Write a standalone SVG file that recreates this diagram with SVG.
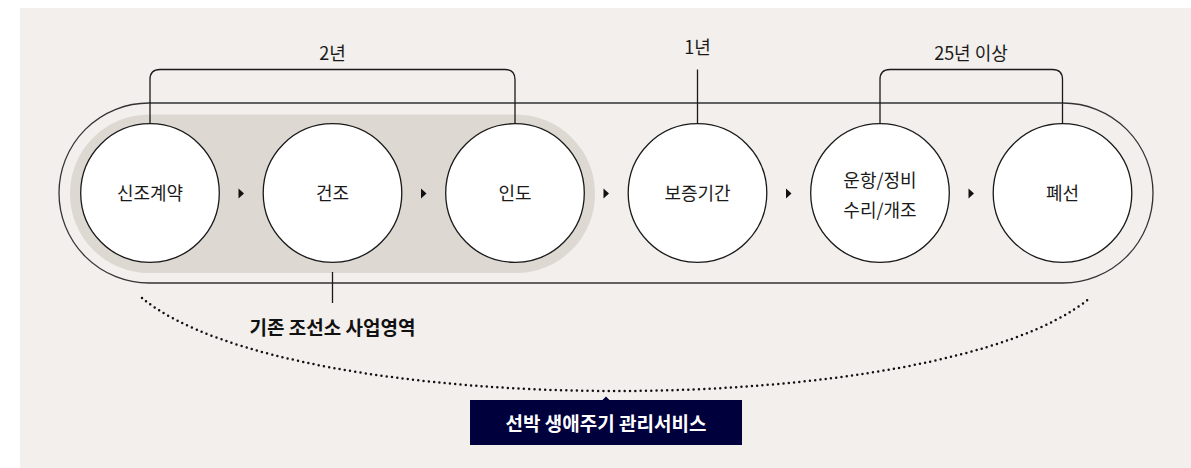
<svg xmlns="http://www.w3.org/2000/svg" width="1191" height="468" viewBox="0 0 1191 468">
<defs>
<style>
.lbl{font-family:"Noto Sans CJK KR","Noto Sans",sans-serif;font-size:18px;fill:#1a1a1a;text-anchor:middle}
.node circle{fill:#fff;stroke:#1a1a1a;stroke-width:1.3}
.ln{fill:none;stroke:#1a1a1a;stroke-width:1.3}
.arr{fill:#111}
.bold{font-family:"Noto Sans CJK KR","Noto Sans",sans-serif;font-weight:700;text-anchor:middle}
</style>
</defs>
<rect x="20" y="8" width="1171" height="460" fill="#f2efec"/>
<g id="outer-pill"><rect x="59" y="103" width="1094" height="180" rx="90" ry="90" fill="none" stroke="#333" stroke-width="1.3"/></g>
<g id="existing-area"><rect x="70" y="114.5" width="525" height="158.5" rx="79" ry="79" fill="#ddd8d2"/></g>
<g id="connectors">
<path class="ln" d="M150 124 V79.5 Q150 69.5 160 69.5 H505 Q515 69.5 515 79.5 V124"/>
<path class="ln" d="M697.5 69.5 V124"/>
<path class="ln" d="M880 124 V79.5 Q880 69.5 890 69.5 H1052.5 Q1062.5 69.5 1062.5 79.5 V124"/>
<path class="ln" d="M332.5 272 V303"/>
<path class="arr" d="M238.5 188.5 L244 193.5 L238.5 198.5 Z"/>
<path class="arr" d="M421 188.5 L426.5 193.5 L421 198.5 Z"/>
<path class="arr" d="M603.5 188.5 L609 193.5 L603.5 198.5 Z"/>
<path class="arr" d="M786 188.5 L791.5 193.5 L786 198.5 Z"/>
<path class="arr" d="M968.5 188.5 L974 193.5 L968.5 198.5 Z"/>
<path d="M142 298 C292 422 940 422 1090 298" fill="none" stroke="#111" stroke-width="2.5" stroke-linecap="round" stroke-dasharray="0 5.3"/>
</g>
<g id="n1" class="node"><circle cx="150" cy="193" r="69.3"/><text class="lbl" x="150" y="199.5">신조계약</text></g>
<g id="n2" class="node"><circle cx="332.5" cy="193" r="69.3"/><text class="lbl" x="332.5" y="199.5">건조</text></g>
<g id="n3" class="node"><circle cx="515" cy="193" r="69.3"/><text class="lbl" x="515" y="199.5">인도</text></g>
<g id="n4" class="node"><circle cx="697.5" cy="193" r="69.3"/><text class="lbl" x="697.5" y="199.5">보증기간</text></g>
<g id="n5" class="node"><circle cx="880" cy="193" r="69.3"/><text class="lbl" x="880" y="186.5">운항/정비</text><text class="lbl" x="880" y="216.5">수리/개조</text></g>
<g id="n6" class="node"><circle cx="1062.5" cy="193" r="69.3"/><text class="lbl" x="1062.5" y="199.5">폐선</text></g>
<g id="dur1"><text class="lbl" x="332.5" y="59.5">2년</text></g>
<g id="dur2"><text class="lbl" x="697.5" y="53.5">1년</text></g>
<g id="dur3"><text class="lbl" x="971" y="59.5">25년 이상</text></g>
<g id="existing-label"><text class="bold" x="332.5" y="335" font-size="19" fill="#111">기존 조선소 사업영역</text></g>
<g id="service">
<path d="M602.5 400 L606 396.5 L609.5 400 Z" fill="#00003c"/>
<rect x="470" y="400" width="272" height="45" fill="#00003c"/>
<text class="bold" x="606" y="430.5" font-size="19" fill="#fff">선박 생애주기 관리서비스</text>
</g>
</svg>
